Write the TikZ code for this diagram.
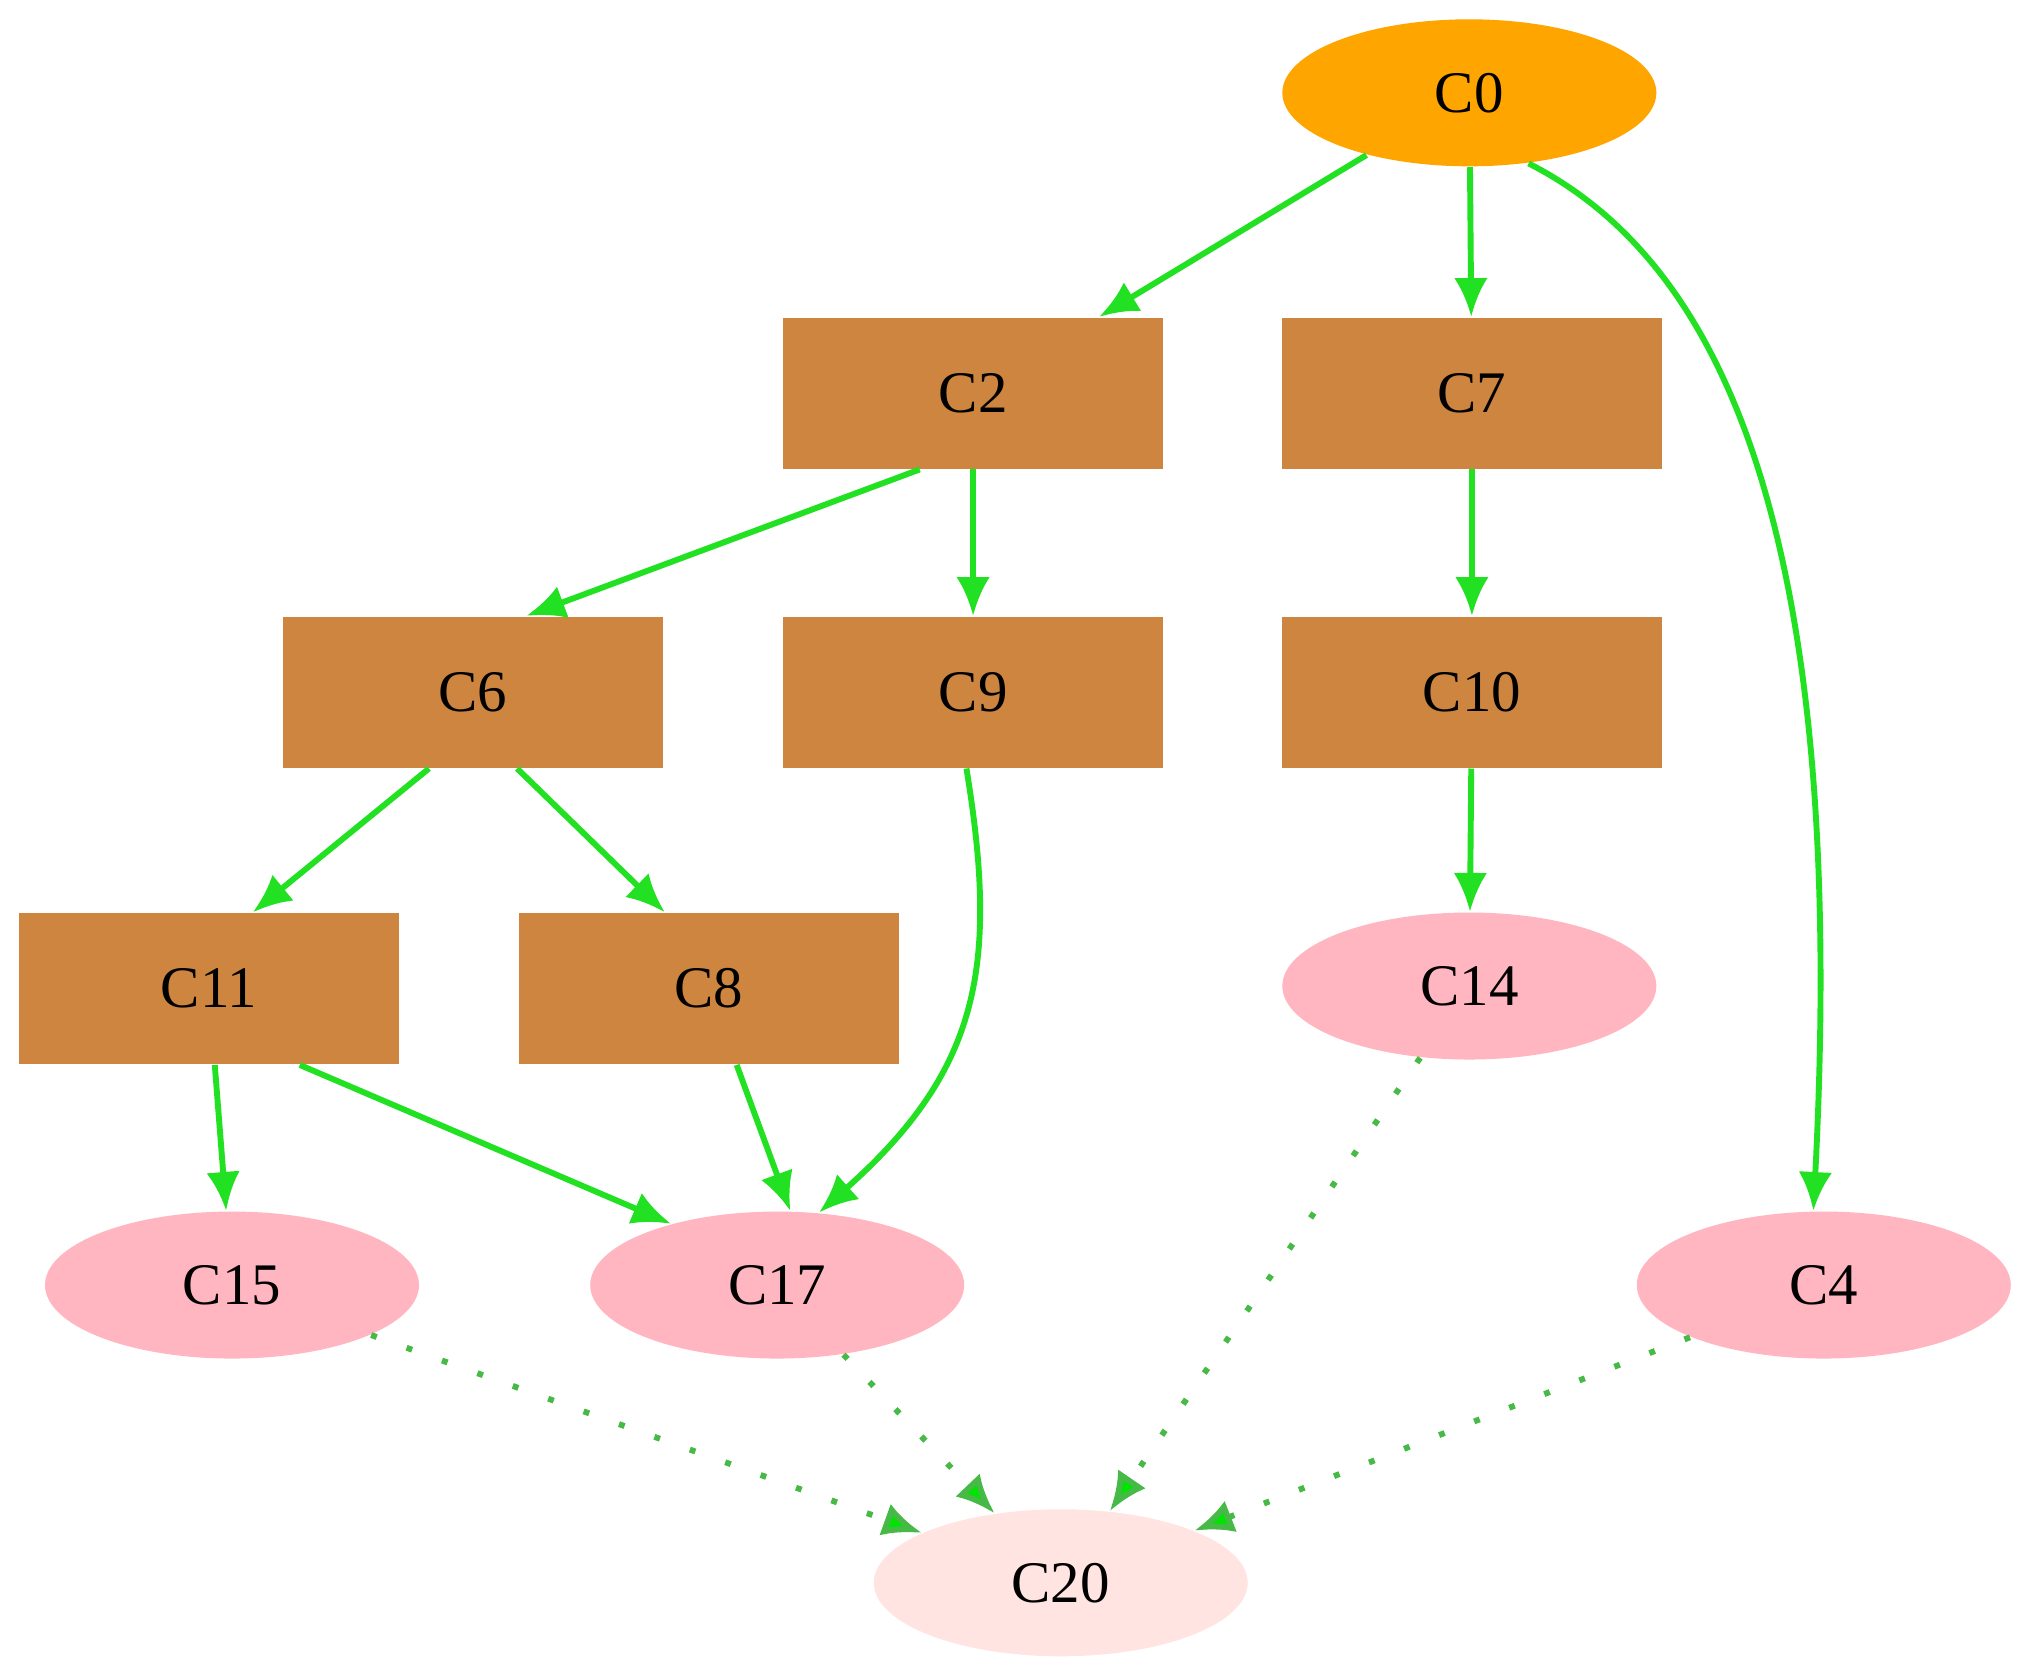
\documentclass[tikz,border=0pt]{standalone}
\usepackage{fontspec}
\setmainfont{Liberation Serif}
\usetikzlibrary{shapes.geometric,arrows.meta}
\definecolor{boxbrown}{HTML}{CD853F}
\definecolor{rootorange}{HTML}{FFA500}
\definecolor{leafpink}{HTML}{FFB6C1}
\definecolor{sinkpink}{HTML}{FFE4E1}
\definecolor{edgegreen}{HTML}{22E022}
\begin{document}
\begin{tikzpicture}[x=0.01cm,y=-0.01cm,
      arrowstyle/.style={-{Latex[length=3mm, width=2.6mm]}, line width=1.3pt, draw=edgegreen},
      dotstyle/.style={-{Latex[length=3mm, width=2.6mm, fill=green!90!black]}, line width=1.3pt, draw=green!45!gray, dash pattern=on 1.3pt off 7pt}]
      \useasboundingbox (0,0) rectangle (1568,1293);
      % A box style
      \tikzstyle{boxnode} = [rectangle, fill=boxbrown, minimum width=2.95cm, minimum height=1.17cm, font=\fontsize{13}{15}\selectfont]
      \tikzstyle{ovalnode} = [ellipse, fill=leafpink, minimum width=2.9cm, minimum height=1.14cm, font=\fontsize{13}{15}\selectfont]

      % Top node
      \node (C0) [ovalnode, fill=rootorange] at (1140,72) {C0};

      % Boxes, row by row
      \node (C2)  [boxnode] at (755,305) {C2};
      \node (C7)  [boxnode] at (1142,305) {C7};
      \node (C6)  [boxnode] at (367,537) {C6};
      \node (C9)  [boxnode] at (755,537) {C9};
      \node (C10) [boxnode] at (1142,537) {C10};
      \node (C11) [boxnode] at (162,767) {C11};
      \node (C8)  [boxnode] at (550,767) {C8};

      % Ovals
      \node (C14) [ovalnode] at (1140,765) {C14};
      \node (C15) [ovalnode] at (180,997) {C15};
      \node (C17) [ovalnode] at (603,997) {C17};
      \node (C4)  [ovalnode] at (1415,997) {C4};
      \node (C20) [ovalnode, fill=sinkpink] at (823,1228) {C20};

      % Solid arrows
      \draw [arrowstyle] (C0) -- (C2);
      \draw [arrowstyle] (C0) -- (C7);
      \draw [arrowstyle] (C0.-50) .. controls (1330,200) and (1435,400) .. (C4.98);
      \draw [arrowstyle] (C2.-125) -- (C6.55);
      \draw [arrowstyle] (C2) -- (C9);
      \draw [arrowstyle] (C7) -- (C10);
      \draw [arrowstyle] (C10) -- (C14);
      \draw [arrowstyle] (C6.-120) -- (C11.60);
      \draw [arrowstyle] (C6.-60) -- (C8.120);
      \draw [arrowstyle] (C9.-95) .. controls (775,750) and (760,830) .. (C17.60);
      \draw [arrowstyle] (C11) -- (C15);
      \draw [arrowstyle] (C11.-40) -- (C17.150);
      \draw [arrowstyle] (C8.-70) -- (C17.80);

      % Dotted arrows
      \draw [dotstyle] (C15) -- (C20);
      \draw [dotstyle] (C17) -- (C20);
      \draw [dotstyle] (C14) -- (C20);
      \draw [dotstyle] (C4) -- (C20);
\end{tikzpicture}
\end{document}
